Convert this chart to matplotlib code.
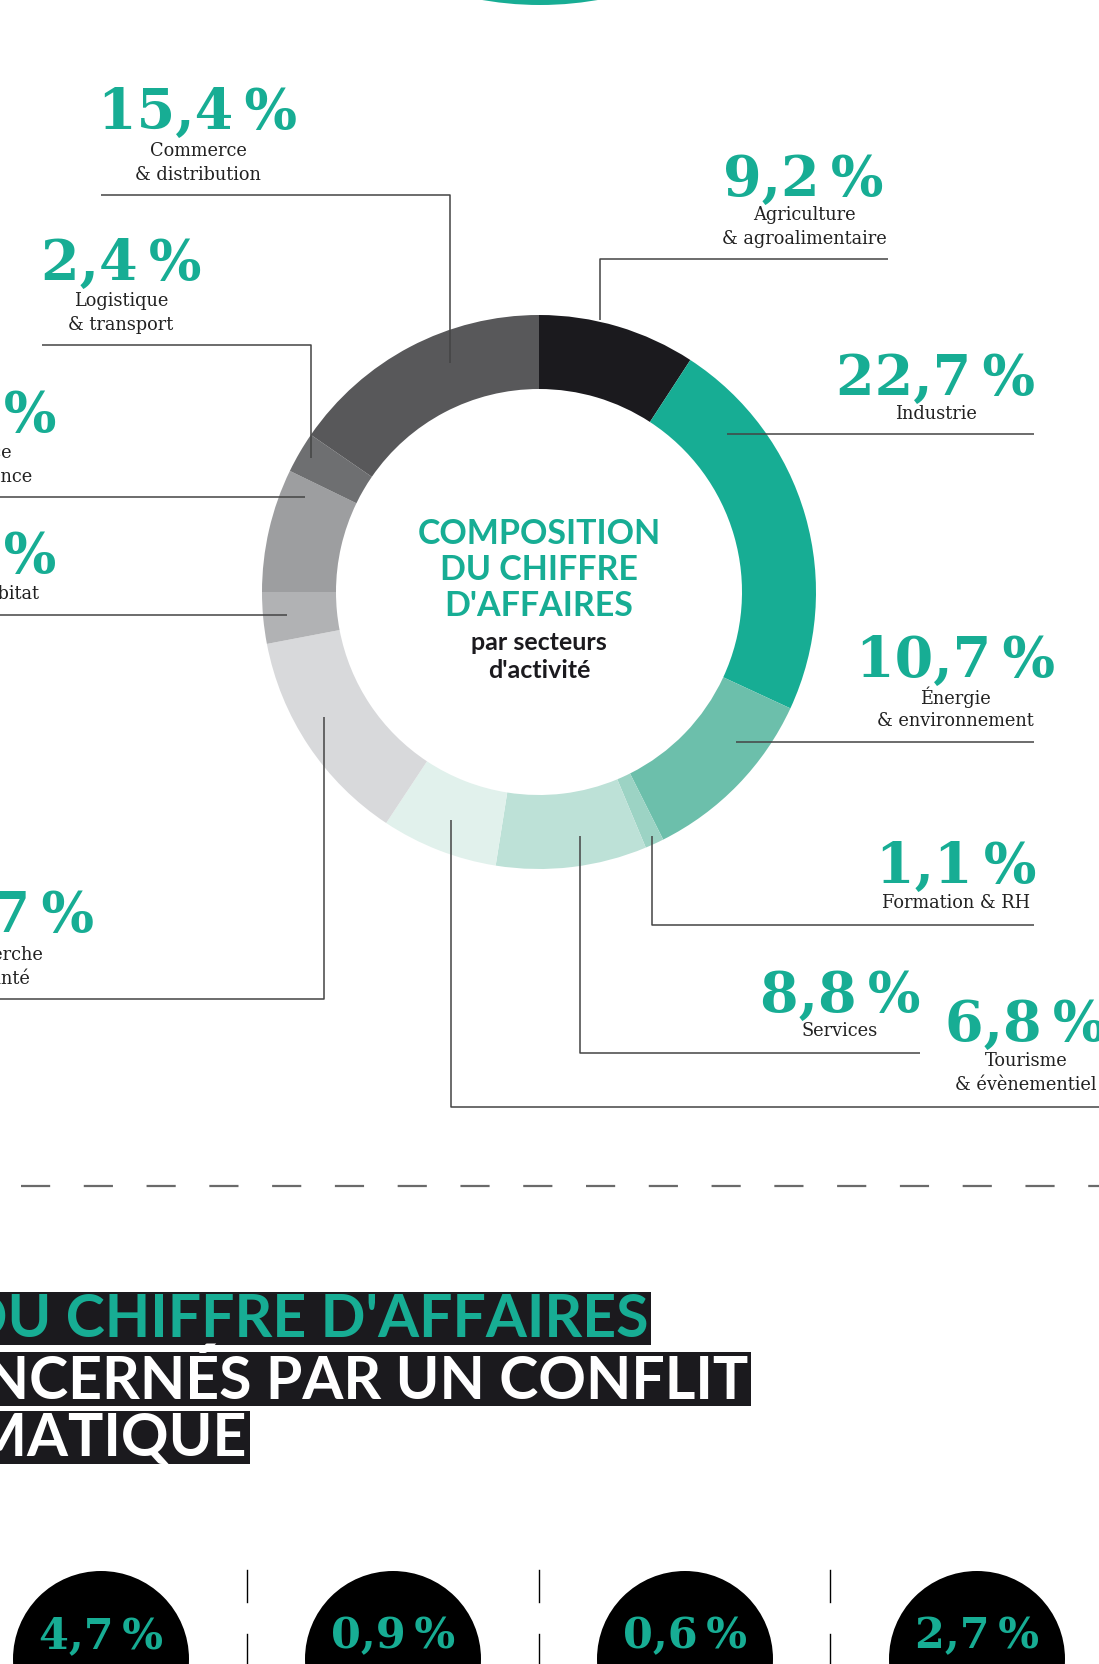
import matplotlib
matplotlib.use('Agg')
import matplotlib.pyplot as plt
from matplotlib.patches import Circle, Rectangle

# ---------------- data ----------------
sectors = ['Agriculture\n& agroalimentaire', 'Industrie', 'Énergie\n& environnement',
           'Formation & RH', 'Services', 'Tourisme\n& évènementiel', 'Recherche\n& santé',
           'BTP & habitat', 'Finance\n& assurance', 'Logistique\n& transport',
           'Commerce\n& distribution']
shares = [9.2, 22.7, 10.7, 1.1, 8.8, 6.8, 12.7, 3.0, 7.2, 2.4, 15.4]
sector_colors = ['#1b1a1e', '#17ad94', '#6cbfab', '#9cd3c4', '#bde1d7', '#e1f1ec',
                 '#d8d9db', '#b1b2b4', '#9d9ea0', '#6e6f71', '#58585a']

center_title = ['COMPOSITION', 'DU CHIFFRE', "D'AFFAIRES"]
center_sub = ['par secteurs', "d'activité"]

heading_lines = ["% DU CHIFFRE D'AFFAIRES", 'CONCERNÉS PAR UN CONFLIT', 'DIPLOMATIQUE']
conflict_shares = [4.7, 0.9, 0.6, 2.7]

# ---------------- layout ----------------
W, H = 1099, 1665
TEAL = '#17ad94'
DARK = '#1b1a1e'
LINE = '#444444'
TXT = '#222222'


def Y(y):
    return H - y


def fmt(v):
    return f'{v:.1f}'.replace('.', ',') + '\u2009%'


# per-sector placement: number centre x, number baseline y, label centre x,
# first label line y, leader polyline (pixel coords, y downward)
placement = [
    (803, 196, 804, 215, [(888, 260), (600, 260), (600, 321)]),
    (936, 395, 936, 414, [(1034, 435), (727, 435)]),
    (956, 677, 955, 697, [(1034, 743), (736, 743)]),
    (956, 883, 956, 903, [(1034, 926), (652, 926), (652, 837)]),
    (840, 1012, 840, 1031, [(920, 1054), (580, 1054), (580, 837)]),
    (1025, 1041, 1026, 1061, [(1099, 1108), (451, 1108), (451, 821)]),
    (-5, 932, -5, 955, [(0, 1000), (324, 1000), (324, 718)]),
    (-24, 573, -24, 594, [(0, 616), (287, 616)]),
    (-24, 432, -24, 453, [(0, 498), (305, 498)]),
    (121, 280, 121, 301, [(42, 346), (311, 346), (311, 459)]),
    (198, 129, 198, 151, [(101, 196), (450, 196), (450, 364)]),
]

fig = plt.figure(figsize=(W / 100, H / 100), dpi=100)
ax = fig.add_axes([0, 0, 1, 1])

# top partial circle (previous graphic)
ax.add_patch(Circle((540, Y(-328)), 334, color=TEAL, lw=0))

# donut
cx, cy, R, RW = 539, 593, 277, 74
ax.pie(shares, colors=sector_colors, startangle=90, counterclock=False, radius=R,
       center=(cx, Y(cy)), wedgeprops=dict(width=RW, linewidth=0), frame=True)

ax.set_xlim(0, W)
ax.set_ylim(0, H)
ax.set_aspect('auto')
ax.axis('off')

serif = ['DejaVu Serif', 'DejaVu Sans']
sans = ['Lato', 'DejaVu Sans']

for name, v, (nx, ny, lx, ly, pts) in zip(sectors, shares, placement):
    ax.text(nx, Y(ny), fmt(v), ha='center', va='baseline', color=TEAL,
            fontsize=40, fontweight='bold', family=serif)
    for i, line in enumerate(name.split('\n')):
        ax.text(lx, Y(ly + i * 24.5), line, ha='center', va='center', color=TXT,
                fontsize=12.8, family=serif)
    xs = [p[0] for p in pts]
    ys = [Y(p[1]) for p in pts]
    ax.plot(xs, ys, color=LINE, lw=1.1, solid_capstyle='butt', zorder=5)

# centre text
for i, t in enumerate(center_title):
    ax.text(cx, Y(534 + i * 36), t, ha='center', va='center', color=TEAL,
            fontsize=24.5, fontweight='bold', family=sans)
for i, t in enumerate(center_sub):
    ax.text(cx, Y(642 + i * 28), t, ha='center', va='center', color=DARK,
            fontsize=18, fontweight='bold', family=sans)

# dashed separator
plt.rcParams['lines.scale_dashes'] = False
ax.plot([21, W], [Y(1187), Y(1187)], color='#6a6a6a', lw=1.6,
        linestyle=(0, (21, 24.2)))

# heading bars
bars = [(1293, 1346, 651, TEAL), (1353, 1407, 751, 'white'), (1412, 1465, 250, 'white')]
for (y0, y1, xr, col), t in zip(bars, heading_lines):
    ax.add_patch(Rectangle((0, Y(y1)), xr, y1 - y0, color=DARK, lw=0))
    ax.text(xr - 3, Y((y0 + y1) / 2 + 1), t, ha='right', va='center', color=col,
            fontsize=42.5, fontweight='bold', family=sans)

# bottom circles
circle_x = [101, 393, 685, 977]
for x, v in zip(circle_x, conflict_shares):
    ax.add_patch(Circle((x, Y(1660)), 88, color='black', lw=0))
    ax.text(x, Y(1636), fmt(v), ha='center', va='center', color=TEAL,
            fontsize=31, fontweight='bold', family=serif)

for x in [247, 539, 830]:
    ax.plot([x, x], [Y(1571), Y(1603)], color='black', lw=1)
    ax.plot([x, x], [Y(1635), Y(1665)], color='black', lw=1)

fig.savefig('out.png', dpi=100, facecolor='white')
